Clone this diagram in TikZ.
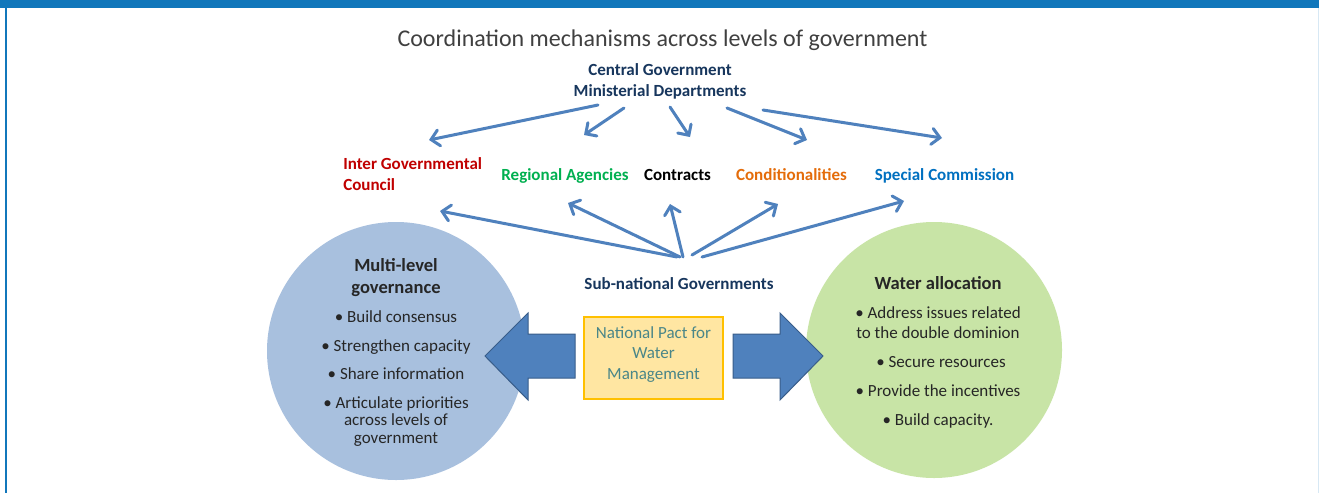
\documentclass[tikz,border=0pt]{standalone}
\usepackage{fontspec}
\setmainfont{Carlito}
\usetikzlibrary{arrows.meta}
\definecolor{barblue}{RGB}{17,119,187}
\definecolor{faintblue}{RGB}{215,232,244}
\definecolor{navy}{RGB}{23,54,93}
\definecolor{connblue}{RGB}{79,129,189}
\definecolor{arrowedge}{RGB}{56,93,138}
\definecolor{bodytext}{RGB}{38,38,38}
\definecolor{titlegray}{RGB}{64,64,64}
\definecolor{igcred}{RGB}{192,0,0}
\definecolor{raggreen}{RGB}{0,176,80}
\definecolor{condorange}{RGB}{228,108,10}
\definecolor{specblue}{RGB}{0,112,192}
\definecolor{leftfill}{RGB}{168,192,222}
\definecolor{rightfill}{RGB}{200,228,166}
\definecolor{boxfill}{RGB}{255,230,162}
\definecolor{boxedge}{RGB}{255,192,0}
\definecolor{boxtext}{RGB}{74,134,136}
\tikzset{
  bodyline/.style={font=\fontsize{12.75pt}{13.1pt}\selectfont, text=bodytext, anchor=base, inner sep=0pt},
  headline/.style={font=\bfseries\fontsize{13.9pt}{16pt}\selectfont, text=bodytext, anchor=base, inner sep=0pt},
  labelline/.style={font=\bfseries\fontsize{12.75pt}{15pt}\selectfont, anchor=base, inner sep=0pt},
  boxline/.style={font=\fontsize{12.75pt}{13.1pt}\selectfont, text=boxtext, anchor=base, inner sep=0pt},
  conn/.style={draw=connblue, line width=2.25pt, line cap=round, -{Straight Barb[length=6pt,width=12pt,line cap=round]}},
  blockarrow/.style={fill=connblue, draw=arrowedge, line width=0.75pt, line join=miter},
}
\begin{document}
\begin{tikzpicture}[x=0.75pt,y=-0.75pt]
\useasboundingbox (0,0) rectangle (1319,493);
\fill[white] (0,0) rectangle (1319,493);
% frame
\fill[barblue] (0,0) rectangle (1319,8);
\fill[barblue] (5,8) rectangle (7,493);
\fill[faintblue] (1317.5,8) rectangle (1319,493);

% title
\node[font=\fontsize{18pt}{22pt}\selectfont, text=titlegray, anchor=base, inner sep=0pt] (title) at (662.5,46) {Coordination mechanisms across levels of government};

% central government
\node[labelline, text=navy] (cg1) at (660,75.5) {Central Government};
\node[labelline, text=navy] (cg2) at (660,96) {Ministerial Departments};

% mechanism labels
\node[labelline, text=igcred, anchor=base west] (igc1) at (343,169) {Inter Governmental};
\node[labelline, text=igcred, anchor=base west] (igc2) at (343,190) {Council};
\node[labelline, text=raggreen] (rag) at (565,180) {Regional Agencies};
\node[labelline, text=black] (con) at (677.5,180) {Contracts};
\node[labelline, text=condorange] (cond) at (791.5,180) {Conditionalities};
\node[labelline, text=specblue] (spec) at (944.5,180) {Special Commission};

% sub-national
\node[labelline, text=navy] (sub) at (679,289) {Sub-national Governments};

% top arrows
\coordinate (ts1) at (598,105); \coordinate (tt1) at (429,140);
\coordinate (ts2) at (624,108); \coordinate (tt2) at (584,135);
\coordinate (ts3) at (670,107); \coordinate (tt3) at (690,137);
\coordinate (ts4) at (727,108); \coordinate (tt4) at (807,140);
\coordinate (ts5) at (763,110); \coordinate (tt5) at (942,138);
\foreach \i in {1,...,5} {\draw[conn] (ts\i) -- (tt\i);}

% bottom arrows
\coordinate (bs1) at (677,257); \coordinate (bt1) at (440,211);
\coordinate (bs2) at (680,257); \coordinate (bt2) at (568,203);
\coordinate (bs3) at (683,257); \coordinate (bt3) at (670,204);
\coordinate (bs4) at (692,255); \coordinate (bt4) at (778,204);
\coordinate (bs5) at (702,257); \coordinate (bt5) at (904,201);
\foreach \i in {1,...,5} {\draw[conn] (bs\i) -- (bt\i);}

% circles
\fill[leftfill] (396,351) circle[radius=129];
\fill[rightfill] (934,350) circle[radius=128];

% block arrows
\draw[blockarrow] (575,334) -- (528,334) -- (528,313) -- (485,356) -- (528,400) -- (528,378) -- (575,378) -- cycle;
\draw[blockarrow] (733,334) -- (780,334) -- (780,313) -- (823,356) -- (780,400) -- (780,378) -- (733,378) -- cycle;

% pact box
\draw[fill=boxfill, draw=boxedge, line width=1.5pt] (584,317) rectangle (723,399);
\node[boxline] (pact1) at (653.5,338.5) {National Pact for};
\node[boxline] (pact2) at (653.5,358.5) {Water};
\node[boxline] (pact3) at (653.5,379.5) {Management};

% left circle text
\node[headline] (mlg1) at (396,271) {Multi-level};
\node[headline] (mlg2) at (396,293) {governance};
\node[bodyline] (ml1) at (396,322.5) {• Build consensus};
\node[bodyline] (ml2) at (396,351.5) {• Strengthen capacity};
\node[bodyline] (ml3) at (396,379.5) {• Share information};
\node[bodyline] (ml4a) at (396,408.5) {• Articulate priorities};
\node[bodyline] (ml4b) at (396,425.5) {across levels of};
\node[bodyline] (ml4c) at (396,443.5) {government};

% right circle text
\node[headline] (wa) at (938,289) {Water allocation};
\node[bodyline] (wa1a) at (938,318.5) {• Address issues related};
\node[bodyline] (wa1b) at (938,338.5) {to the double dominion};
\node[bodyline] (wa2) at (941,367.5) {• Secure resources};
\node[bodyline] (wa3) at (938,396.5) {• Provide the incentives};
\node[bodyline] (wa4) at (938,425.5) {• Build capacity.};
\end{tikzpicture}
\end{document}
